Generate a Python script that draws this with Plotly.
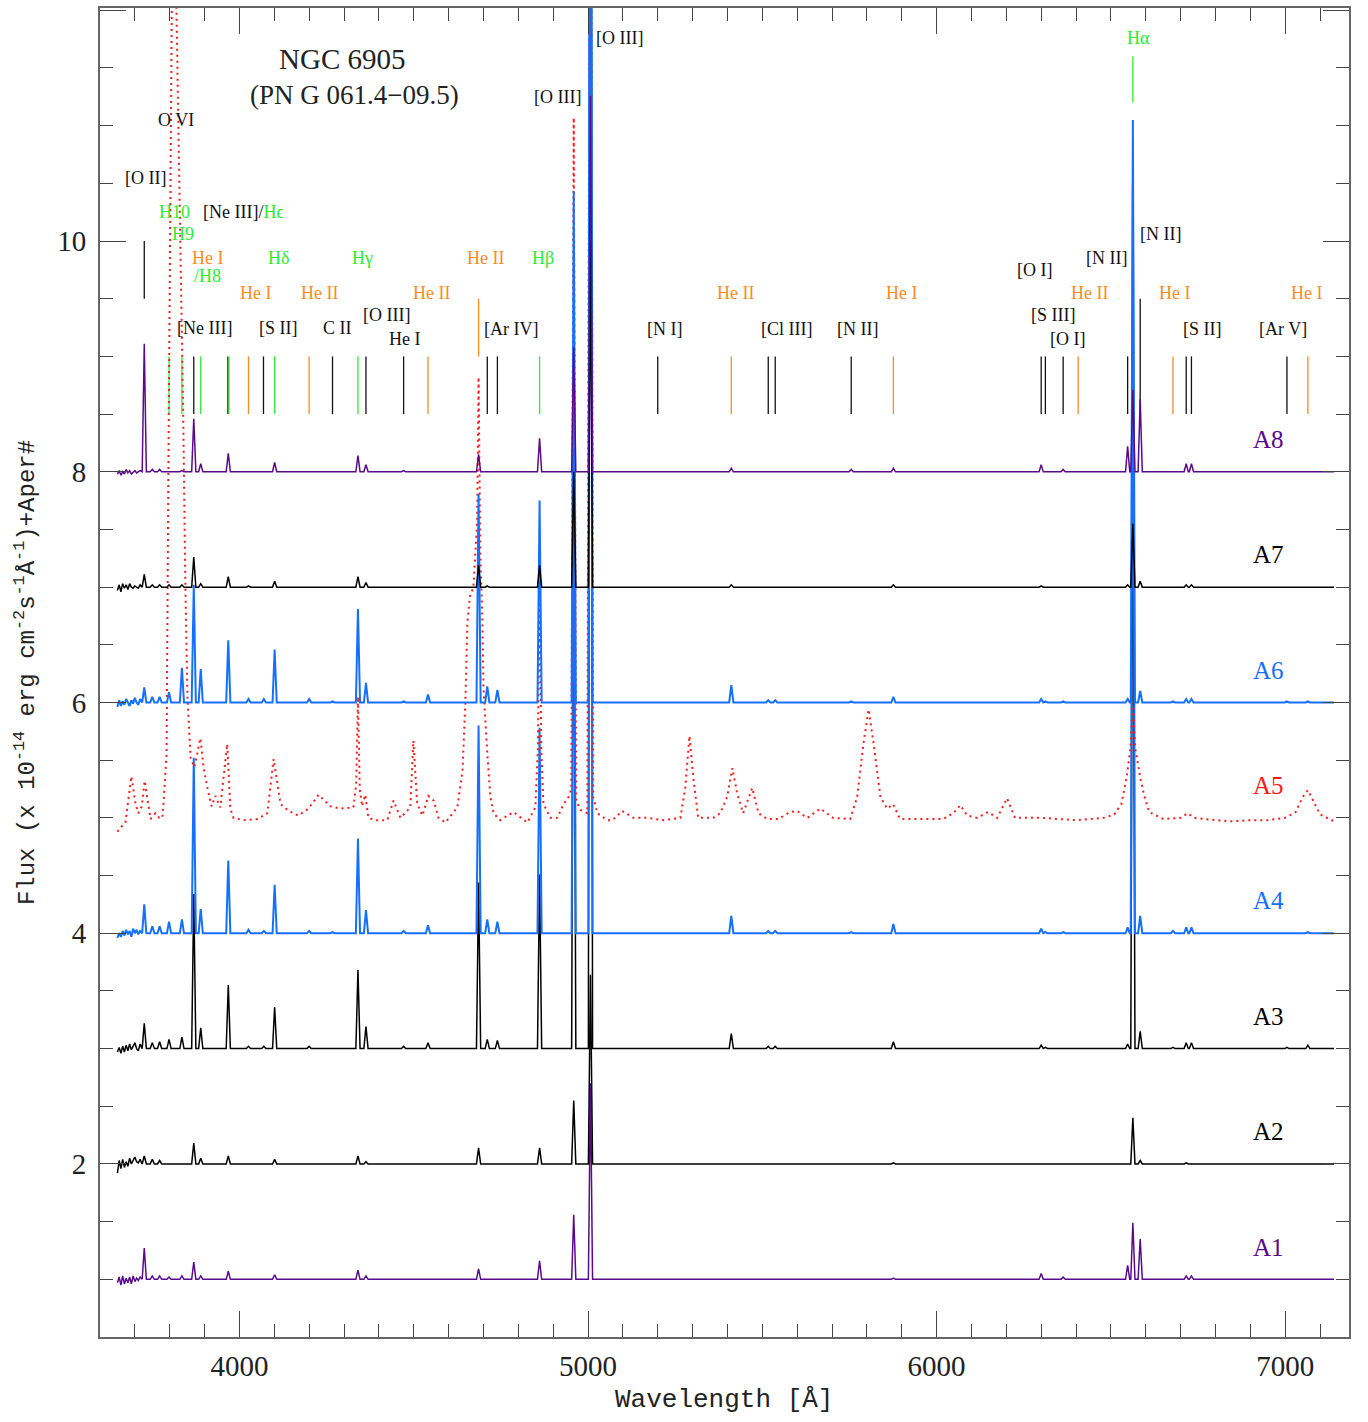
import plotly.graph_objects as go

# ---------------- data ----------------
BLUE_LAM = [3650, 3655, 3660, 3665, 3670, 3675, 3680, 3685, 3690, 3695, 3700, 3705, 3710, 3715]
END_LAM = 7140

A1_blue = [-0.03, 0.02, -0.05, 0.03, -0.04, 0.01, -0.03, 0.02, -0.04, 0.03, -0.02, 0.01, -0.01, 0.02]
A2_blue = [-0.08, 0.03, -0.04, 0.04, -0.03, 0.02, -0.02, 0.05, 0.0, 0.03, 0.06, 0.02, 0.01, 0.04]
A3_blue = [-0.03, 0.01, -0.04, 0.02, -0.03, 0.03, -0.02, 0.04, -0.01, 0.02, 0.05, 0.0, -0.02, 0.04]
A4_blue = [-0.04, 0.0, -0.03, 0.02, -0.02, 0.03, -0.01, 0.02, -0.03, 0.04, 0.0, 0.03, -0.01, 0.02]
A6_blue = [-0.04, 0.02, -0.03, 0.01, -0.02, 0.03, 0.0, -0.03, 0.02, -0.01, 0.04, 0.0, -0.02, 0.03]
A7_blue = [-0.03, 0.02, -0.04, 0.03, -0.01, 0.02, -0.02, 0.03, 0.0, -0.01, 0.01, 0.0, -0.01, 0.02]
A8_blue = [-0.02, 0.01, -0.03, 0.0, -0.02, 0.02, -0.01, 0.01, -0.02, 0.0, 0.01, -0.01, 0.0, 0.01]

# emission line peak heights above each aperture's baseline
A1_lines = {3727: .27, 3750: .03, 3771: .03, 3798: .02, 3835: .03, 3869: .15, 3889: .03, 3968: .07,
            4101: .04, 4340: .08, 4363: .03, 4686: .09, 4861: .16, 4959: .56, 5007: 1.7, 5876: .01,
            6300: .05, 6363: .02, 6548: .12, 6563: .49, 6584: .35, 6716: .03, 6731: .03}
A2_lines = {3727: .07, 3750: .04, 3771: .03, 3869: .18, 3889: .05, 3968: .07, 4101: .04, 4340: .07,
            4363: .02, 4686: .14, 4861: .14, 4959: .55, 5007: 1.64, 5876: .01, 6563: .40, 6584: .03,
            6716: .01}
A3_lines = {3727: .22, 3750: .05, 3771: .06, 3798: .08, 3835: .10, 3869: 1.34, 3889: .18, 3968: .55,
            4026: .02, 4070: .02, 4101: .36, 4200: .02, 4340: .68, 4363: .19, 4471: .02, 4541: .05,
            4686: 1.44, 4711: .08, 4740: .07, 4861: 1.51, 4959: 5.0, 5007: 14.0, 5411: .13, 5517: .02,
            5537: .02, 5876: .06, 6300: .03, 6312: .01, 6548: .04, 6563: 5.5, 6584: .15, 6678: .01,
            6716: .05, 6731: .05, 7005: .01, 7065: .03}
A4_lines = {3727: .25, 3750: .06, 3771: .06, 3798: .10, 3835: .12, 3869: 1.52, 3889: .21, 3968: .63,
            4026: .03, 4070: .02, 4101: .42, 4200: .02, 4267: .01, 4340: .82, 4363: .20, 4471: .02,
            4541: .07, 4686: 1.80, 4711: .12, 4740: .10, 4861: 1.78, 4959: 4.2, 5007: 13.0, 5411: .15,
            5517: .02, 5537: .02, 5755: .01, 5876: .08, 6300: .04, 6312: .01, 6363: .01, 6548: .05,
            6563: 6.5, 6584: .15, 6678: .02, 6716: .05, 6731: .05, 7065: .01}
A6_lines = {3727: .13, 3750: .05, 3771: .05, 3798: .09, 3835: .30, 3869: 1.02, 3889: .29, 3968: .54,
            4026: .03, 4070: .03, 4101: .46, 4200: .03, 4267: .01, 4340: .81, 4363: .17, 4471: .01,
            4541: .07, 4686: 1.81, 4711: .14, 4740: .11, 4861: 1.75, 4959: 4.43, 5007: 14.0, 5411: .15,
            5517: .02, 5537: .02, 5755: .01, 5876: .05, 6300: .03, 6312: .01, 6363: .01, 6548: .03,
            6563: 5.05, 6584: .10, 6678: .01, 6716: .03, 6731: .03, 7005: .01, 7065: .01}
A7_lines = {3727: .11, 3750: .02, 3771: .02, 3798: .02, 3835: .02, 3869: .26, 3889: .03, 3968: .09,
            4026: .01, 4101: .05, 4340: .09, 4363: .04, 4686: .19, 4711: .01, 4861: .19, 4959: 1.0,
            5007: 3.0, 5411: .02, 5876: .02, 6300: .01, 6548: .02, 6563: .55, 6584: .05, 6716: .02,
            6731: .02}
A8_lines = {3727: 1.11, 3750: .02, 3771: .02, 3835: .01, 3869: .46, 3889: .07, 3968: .16, 4101: .08,
            4340: .14, 4363: .06, 4471: .01, 4686: .15, 4861: .29, 4959: 1.08, 5007: 3.26, 5411: .03,
            5755: .02, 5876: .03, 6300: .06, 6363: .02, 6548: .22, 6563: .71, 6584: .63, 6716: .07,
            6731: .07}

# A5 (central star region, dotted) read point by point
A5_lam = [3650, 3660, 3673, 3690, 3702, 3710, 3720, 3728, 3745, 3759, 3770, 3779, 3782, 3791, 3796,
          3805, 3812, 3819, 3831, 3839, 3845, 3851, 3860, 3871, 3888, 3897, 3908, 3920, 3931, 3945,
          3965, 3974, 3983, 4011, 4052, 4080, 4098, 4118, 4141, 4169, 4198, 4227, 4261, 4290, 4327,
          4335, 4340, 4345, 4352, 4361, 4370, 4390, 4424, 4442, 4462, 4490, 4499, 4510, 4525, 4542,
          4557, 4571, 4591, 4625, 4640, 4648, 4654, 4662, 4671, 4682, 4686, 4691, 4697, 4700, 4711,
          4720, 4729, 4748, 4786, 4826, 4849, 4856, 4861, 4866, 4872, 4892, 4912, 4930, 4944, 4952,
          4959, 4966, 4978, 4998, 5007, 5015, 5027, 5055, 5070, 5098, 5130, 5170, 5216, 5265, 5279,
          5291, 5302, 5316, 5359, 5379, 5399, 5414, 5428, 5445, 5471, 5489, 5514, 5546, 5580, 5600,
          5629, 5666, 5703, 5752, 5772, 5790, 5805, 5818, 5839, 5858, 5875, 5895, 5953, 6019, 6048,
          6068, 6088, 6116, 6148, 6174, 6202, 6225, 6300, 6400, 6480, 6510, 6530, 6545, 6556, 6563,
          6570, 6584, 6595, 6610, 6650, 6700, 6720, 6740, 6800, 6850, 6900, 6950, 7000, 7030, 7050,
          7065, 7080, 7100, 7140]
A5_flux = [4.88, 4.92, 4.96, 5.36, 5.12, 5.04, 5.10, 5.32, 4.99, 5.04, 5.00, 5.00, 5.12, 5.56, 7.94,
           12.06, 14.5, 12.06, 10.05, 8.43, 6.99, 6.04, 5.52, 5.44, 5.69, 5.44, 5.26, 5.10, 5.19, 5.09,
           5.64, 5.08, 5.00, 4.98, 4.99, 5.04, 5.51, 5.12, 5.06, 5.02, 5.08, 5.20, 5.10, 5.08, 5.09,
           5.30, 6.05, 5.26, 5.10, 5.20, 5.00, 4.98, 4.98, 5.15, 5.00, 5.09, 5.67, 5.12, 5.02, 5.19,
           5.15, 5.00, 4.96, 5.09, 5.41, 5.99, 6.70, 6.94, 6.99, 7.57, 8.82, 7.30, 6.70, 6.13, 5.56,
           5.18, 5.04, 4.98, 5.05, 4.96, 5.09, 5.60, 6.90, 5.60, 5.12, 5.00, 5.00, 5.12, 5.18, 5.25,
           11.07, 5.15, 5.07, 5.04, 16.0, 5.18, 5.04, 4.98, 4.98, 5.06, 5.00, 5.00, 4.98, 5.00, 5.26,
           5.71, 5.35, 5.00, 5.00, 5.04, 5.18, 5.43, 5.21, 5.04, 5.26, 5.04, 4.99, 4.99, 5.05, 5.06,
           5.00, 5.08, 5.00, 4.99, 5.18, 5.64, 5.94, 5.67, 5.18, 5.08, 5.12, 4.99, 4.99, 4.99, 5.04,
           5.11, 5.02, 5.00, 5.05, 5.00, 5.17, 5.00, 5.00, 4.98, 5.00, 5.03, 5.12, 5.35, 5.60, 6.00,
           5.60, 5.35, 5.20, 5.05, 4.99, 5.00, 5.04, 5.00, 4.98, 4.97, 4.98, 4.98, 5.00, 5.05, 5.18,
           5.24, 5.15, 5.03, 4.97]

# line identification marks: wavelength, colour key, bottom, top
MARK_LAM = [3727, 3798, 3835, 3869, 3889, 3967, 3970, 4026, 4069, 4101, 4200, 4267, 4340, 4363, 4471,
            4541, 4686, 4711, 4740, 4861, 5200, 5411, 5517, 5537, 5755, 5876, 6300, 6312, 6363, 6406,
            6548, 6563, 6584, 6678, 6716, 6731, 7005, 7065]
MARK_COL = ['k', 'g', 'g', 'k', 'g', 'k', 'g', 'o', 'k', 'g', 'o', 'k', 'g', 'k', 'k',
            'o', 'o', 'k', 'k', 'g', 'k', 'o', 'k', 'k', 'k', 'o', 'k', 'k', 'k', 'o',
            'k', 'g', 'k', 'o', 'k', 'k', 'k', 'o']
MARK_Y0 = [9.5, 8.5, 8.5, 8.5, 8.5, 8.5, 8.5, 8.5, 8.5, 8.5, 8.5, 8.5, 8.5, 8.5, 8.5,
           8.5, 9.0, 8.5, 8.5, 8.5, 8.5, 8.5, 8.5, 8.5, 8.5, 8.5, 8.5, 8.5, 8.5, 8.5,
           8.5, 11.2, 8.5, 8.5, 8.5, 8.5, 8.5, 8.5]
MARK_Y1 = [10.0, 9.0, 9.0, 9.0, 9.0, 9.0, 9.0, 9.0, 9.0, 9.0, 9.0, 9.0, 9.0, 9.0, 9.0,
           9.0, 9.5, 9.0, 9.0, 9.0, 9.0, 9.0, 9.0, 9.0, 9.0, 9.0, 9.0, 9.0, 9.0, 9.0,
           9.0, 11.6, 9.5, 9.0, 9.0, 9.0, 9.0, 9.0]

# line labels: text, wavelength position, flux position, colour key
LABELS = [
    ("O VI", 3819, 11.05, 'k'), ("[O II]", 3730, 10.55, 'k'), ("H10", 3814, 10.25, 'g'),
    ("[Ne III]/<span style='color:#2cec2c'>H\u03f5</span>", 4011, 10.25, 'k'),
    ("H9", 3837, 10.06, 'g'), ("He I", 3908, 9.85, 'o'), ("/H8", 3908, 9.70, 'g'),
    ("H\u03b4", 4112, 9.85, 'g'), ("H\u03b3", 4353, 9.85, 'g'),
    ("He I", 4046, 9.55, 'o'), ("He II", 4229, 9.55, 'o'), ("He II", 4551, 9.55, 'o'),
    ("[Ne III]", 3900, 9.25, 'k'), ("[S II]", 4112, 9.25, 'k'), ("C II", 4281, 9.25, 'k'),
    ("[O III]", 4422, 9.36, 'k'), ("He I", 4473, 9.15, 'k'),
    ("[O III]", 5090, 11.76, 'k'), ("[O III]", 4912, 11.25, 'k'),
    ("He II", 4705, 9.85, 'o'), ("H\u03b2", 4872, 9.85, 'g'),
    ("[Ar IV]", 4780, 9.24, 'k'), ("[N I]", 5219, 9.24, 'k'),
    ("He II", 5422, 9.55, 'o'), ("[Cl III]", 5569, 9.24, 'k'), ("[N II]", 5772, 9.24, 'k'),
    ("He I", 5898, 9.55, 'o'), ("H\u03b1", 6578, 11.76, 'g'),
    ("[N II]", 6641, 10.06, 'k'), ("[N II]", 6486, 9.85, 'k'), ("[O I]", 6280, 9.75, 'k'),
    ("He II", 6438, 9.55, 'o'), ("[S III]", 6334, 9.36, 'k'), ("[O I]", 6375, 9.15, 'k'),
    ("He I", 6681, 9.55, 'o'), ("[S II]", 6762, 9.24, 'k'), ("He I", 7060, 9.55, 'o'),
    ("[Ar V]", 6994, 9.24, 'k'),
]

APER_NAMES = ["A1", "A2", "A3", "A4", "A5", "A6", "A7", "A8"]
APER_BASE = [1, 2, 3, 4, 5, 6, 7, 8]

# ---------------- styles ----------------
PURPLE = "#5a0b8c"
BLUE = "#1670ff"
RED = "#ff1a1a"
BLACK = "#000000"
COLS = {'k': "#111111", 'o': "#ff8a22", 'g': "#2cec2c"}
APER_COL = [PURPLE, BLACK, BLACK, BLUE, RED, BLUE, BLACK, PURPLE]
HW = 6  # half base width of a drawn emission line, Angstrom


def spectrum(base, blue_off, lines):
    xs = list(BLUE_LAM)
    ys = [base + o for o in blue_off]
    for lam in sorted(lines):
        h = lines[lam]
        xs += [lam - HW, lam, lam + HW]
        ys += [base, base + h, base]
    xs.append(END_LAM)
    ys.append(base)
    return xs, ys


fig = go.Figure()

# identification marks (drawn first, underneath spectra)
for key in ['k', 'o', 'g']:
    mx, my = [], []
    for lam, c, y0, y1 in zip(MARK_LAM, MARK_COL, MARK_Y0, MARK_Y1):
        if c == key:
            mx += [lam, lam, None]
            my += [y0, y1, None]
    fig.add_trace(go.Scatter(x=mx, y=my, mode="lines", line=dict(color=COLS[key], width=1.3),
                             hoverinfo="skip", showlegend=False))

specs = {
    "A1": (A1_blue, A1_lines), "A2": (A2_blue, A2_lines), "A3": (A3_blue, A3_lines),
    "A4": (A4_blue, A4_lines), "A6": (A6_blue, A6_lines), "A7": (A7_blue, A7_lines),
    "A8": (A8_blue, A8_lines),
}

for name, base, col in zip(APER_NAMES, APER_BASE, APER_COL):
    if name == "A5":
        fig.add_trace(go.Scatter(x=A5_lam, y=A5_flux, mode="lines", name=name,
                                 line=dict(color=RED, width=2, dash="2px,4px"), showlegend=False))
    else:
        bo, ln = specs[name]
        xs, ys = spectrum(base, bo, ln)
        w = 2.0 if col == BLUE else 1.5
        fig.add_trace(go.Scatter(x=xs, y=ys, mode="lines", name=name,
                                 line=dict(color=col, width=w), showlegend=False))

annotations = []
LFONT = "Liberation Serif"
for txt, lx, ly, c in LABELS:
    annotations.append(dict(x=lx, y=ly, xref="x", yref="y", text=txt, showarrow=False,
                            font=dict(family=LFONT, size=18, color=COLS[c]),
                            xanchor="center", yanchor="middle"))
for name, base, col in zip(APER_NAMES, APER_BASE, APER_COL):
    annotations.append(dict(x=6951, y=base + 0.28, xref="x", yref="y", text=name, showarrow=False,
                            font=dict(family=LFONT, size=25, color=col),
                            xanchor="center", yanchor="middle"))
annotations.append(dict(x=4295, y=11.58, xref="x", yref="y", text="NGC 6905", showarrow=False,
                        font=dict(family=LFONT, size=29, color="#222"), xanchor="center", yanchor="middle"))
annotations.append(dict(x=4330, y=11.27, xref="x", yref="y", text="(PN G 061.4\u221209.5)",
                        showarrow=False, font=dict(family=LFONT, size=27, color="#222"),
                        xanchor="center", yanchor="middle"))
annotations.append(dict(x=0.4996, y=-0.0473, xref="paper", yref="paper", text="Wavelength [\u00c5]",
                        showarrow=False, font=dict(family="Liberation Mono", size=26, color="#222"),
                        xanchor="center", yanchor="middle"))
annotations.append(dict(x=-0.060, y=0.4996, xref="paper", yref="paper",
                        text="Flux (x 10<sup>-14</sup> erg cm<sup>-2</sup>s<sup>-1</sup>\u00c5<sup>-1</sup>)+Aper#",
                        textangle=-90, showarrow=False,
                        font=dict(family="Liberation Mono", size=24, color="#222"),
                        xanchor="center", yanchor="middle"))

AX = dict(showgrid=False, zeroline=False, showline=True, linecolor="#666", linewidth=2,
          mirror="allticks", ticks="inside", ticklen=26, tickwidth=1.3, tickcolor="#444",
          tickfont=dict(family=LFONT, size=29, color="#222"))

fig.update_layout(
    width=1368, height=1422,
    margin=dict(l=100, r=19, t=6, b=85),
    paper_bgcolor="white", plot_bgcolor="white",
    annotations=annotations,
    xaxis=dict(range=[3600, 7183], tick0=0, dtick=1000, ticklabelstandoff=2,
               minor=dict(dtick=100, ticklen=13, tickcolor="#444", tickwidth=1.3, ticks="inside"),
               **AX),
    yaxis=dict(range=[0.5, 12.02], tick0=0, dtick=2, ticklabelstandoff=6,
               minor=dict(dtick=0.5, ticklen=13, tickcolor="#444", tickwidth=1.3, ticks="inside"),
               **AX),
)

fig.write_html("out.html", config={"displayModeBar": False},
               post_script="document.body.style.margin='0';")
